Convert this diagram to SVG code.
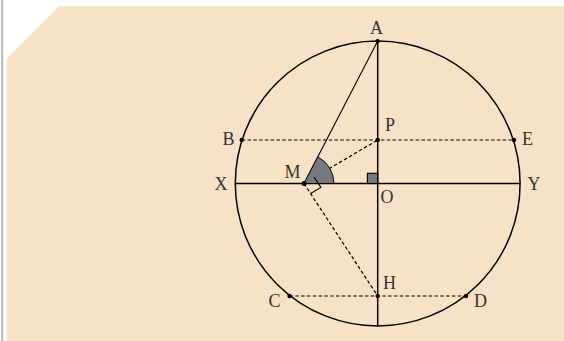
<svg xmlns="http://www.w3.org/2000/svg" width="564" height="341" viewBox="0 0 564 341">
<style>
.lbl{font-family:"Liberation Serif","DejaVu Serif",serif;font-size:18px;fill:#333}
.solid{stroke:#000;stroke-width:1.5;fill:none}
.thin{stroke:#000;stroke-width:1.1;fill:none}
.dash{stroke:#000;stroke-width:1.2;fill:none;stroke-dasharray:3.5 2.3}
.pt{fill:#000}
</style>
<rect x="0" y="0" width="564" height="341" fill="#fff"/>
<rect x="1" y="0" width="2.2" height="341" fill="#bdbdbd"/>
<polygon points="6.7,58.5 59,6.3 564,6.3 564,341 6.7,341" fill="#f8e2c7"/>
<g id="circle"><circle cx="377.7" cy="183.5" r="142.4" class="solid" stroke-width="1.7"/></g>
<g id="connectors">
<line x1="377.7" y1="41.1" x2="377.7" y2="325.9" class="solid"/>
<line x1="235.3" y1="183.5" x2="520.1" y2="183.5" class="solid"/>
<line x1="304" y1="183.5" x2="377.7" y2="41.1" class="thin"/>
<line x1="241.7" y1="140" x2="514" y2="140" class="dash"/>
<line x1="289.5" y1="296" x2="466" y2="296" class="dash"/>
<line x1="304" y1="183.5" x2="377.7" y2="140" class="dash"/>
<line x1="304" y1="183.5" x2="377.7" y2="296" class="dash"/>
</g>
<g id="angle-M">
<path d="M304,183.5 L334,183.5 A30,30 0 0 0 317.8,156.85 Z" fill="#78797b" stroke="#000" stroke-width="0.9"/>
<polyline points="314.3,177.4 320.9,187.4 310.6,193.5" class="thin"/>
</g>
<g id="angle-O"><rect x="367.4" y="173.3" width="10.3" height="10.2" fill="#78797b" stroke="#000" stroke-width="1.1"/></g>
<g id="node-A"><circle cx="377.7" cy="41.1" r="2.2" class="pt"/><text class="lbl" x="370" y="34">A</text></g>
<g id="node-P"><circle cx="377.7" cy="140" r="2.2" class="pt"/><text class="lbl" x="385" y="131">P</text></g>
<g id="node-B"><circle cx="241.7" cy="140" r="2.2" class="pt"/><text class="lbl" x="222.5" y="144.5">B</text></g>
<g id="node-E"><circle cx="514" cy="140" r="2.2" class="pt"/><text class="lbl" x="522" y="144.5">E</text></g>
<g id="node-X"><text class="lbl" x="214.5" y="189.5">X</text></g>
<g id="node-Y"><text class="lbl" x="527.5" y="190">Y</text></g>
<g id="node-M"><circle cx="304" cy="183.5" r="2.5" class="pt"/><text class="lbl" x="284.5" y="177.5">M</text></g>
<g id="node-O"><text class="lbl" x="380.5" y="202.5">O</text></g>
<g id="node-H"><circle cx="377.7" cy="296" r="2.2" class="pt"/><text class="lbl" x="383" y="289">H</text></g>
<g id="node-C"><circle cx="289.5" cy="296" r="2.2" class="pt"/><text class="lbl" x="268.5" y="307.3">C</text></g>
<g id="node-D"><circle cx="466" cy="296" r="2.2" class="pt"/><text class="lbl" x="474" y="307.3">D</text></g>
</svg>
